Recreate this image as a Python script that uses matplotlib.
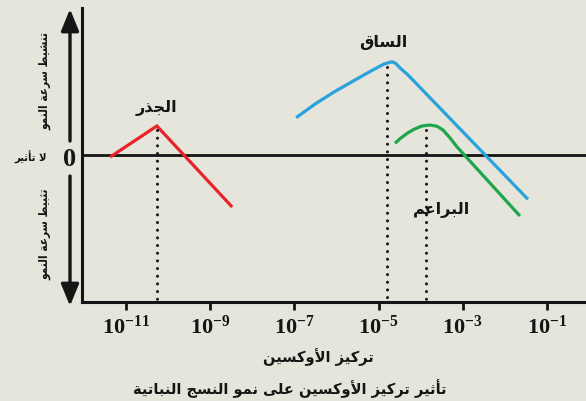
import matplotlib
matplotlib.use("Agg")
import matplotlib.pyplot as plt
import numpy as np

# ---------------- Arabic shaping helper ----------------
_D, _R, _N = 'D', 'R', 'N'
_BASE = {
    0x0621: (0xFE80, _N), 0x0622: (0xFE81, _R), 0x0623: (0xFE83, _R),
    0x0624: (0xFE85, _R), 0x0625: (0xFE87, _R), 0x0626: (0xFE89, _D),
    0x0627: (0xFE8D, _R), 0x0628: (0xFE8F, _D), 0x0629: (0xFE93, _R),
    0x062A: (0xFE95, _D), 0x062B: (0xFE99, _D), 0x062C: (0xFE9D, _D),
    0x062D: (0xFEA1, _D), 0x062E: (0xFEA5, _D), 0x062F: (0xFEA9, _R),
    0x0630: (0xFEAB, _R), 0x0631: (0xFEAD, _R), 0x0632: (0xFEAF, _R),
    0x0633: (0xFEB1, _D), 0x0634: (0xFEB5, _D), 0x0635: (0xFEB9, _D),
    0x0636: (0xFEBD, _D), 0x0637: (0xFEC1, _D), 0x0638: (0xFEC5, _D),
    0x0639: (0xFEC9, _D), 0x063A: (0xFECD, _D), 0x0641: (0xFED1, _D),
    0x0642: (0xFED5, _D), 0x0643: (0xFED9, _D), 0x0644: (0xFEDD, _D),
    0x0645: (0xFEE1, _D), 0x0646: (0xFEE5, _D), 0x0647: (0xFEE9, _D),
    0x0648: (0xFEED, _R), 0x0649: (0xFEEF, _R), 0x064A: (0xFEF1, _D),
}
_LAMALEF = {0x0622: 0xFEF5, 0x0623: 0xFEF7, 0x0625: 0xFEF9, 0x0627: 0xFEFB}


def ar(text):
    toks = []
    i = 0
    while i < len(text):
        c = ord(text[i])
        if c == 0x0644 and i + 1 < len(text) and ord(text[i + 1]) in _LAMALEF:
            toks.append(('LA', _LAMALEF[ord(text[i + 1])]))
            i += 2
            continue
        toks.append(('C', c))
        i += 1

    def jtype(t):
        if t[0] == 'LA':
            return _R
        if t[1] in _BASE:
            return _BASE[t[1]][1]
        return None

    out = []
    for k, t in enumerate(toks):
        jt = jtype(t)
        if jt is None:
            out.append(chr(t[1]))
            continue
        prev_j = k > 0 and jtype(toks[k - 1]) == _D and jt in (_D, _R)
        next_j = (jt == _D and k + 1 < len(toks)
                  and jtype(toks[k + 1]) in (_D, _R))
        if t[0] == 'LA':
            out.append(chr(t[1] + (1 if prev_j else 0)))
            continue
        base = _BASE[t[1]][0]
        if jt == _N:
            out.append(chr(base))
        elif prev_j and next_j:
            out.append(chr(base + 3))
        elif prev_j:
            out.append(chr(base + 1))
        elif next_j:
            out.append(chr(base + 2))
        else:
            out.append(chr(base))
    return ''.join(out)[::-1]


# ---------------- Data (x as log10 of auxin concentration) ----------------
root_logx = [-11.38, -10.27, -8.48]
root_y = [-0.02, 0.29, -0.52]

stem_logx = [-6.96, -6.51, -6.04, -5.56, -5.16, -4.87, -4.68, -4.59, -4.49,
             -4.30, -1.45]
stem_y = [0.373, 0.51, 0.635, 0.75, 0.845, 0.91, 0.933, 0.915, 0.87,
          0.80, -0.443]

bud_logx = [-4.61, -4.47, -4.32, -4.16, -3.97, -3.78, -3.61, -3.47, -3.30,
            -3.14, -1.64]
bud_y = [0.117, 0.17, 0.217, 0.257, 0.29, 0.30, 0.287, 0.25, 0.17,
         0.083, -0.61]

optima_logx = [-10.27, -4.81, -3.87]
optima_y = [0.29, 0.92, 0.29]

tick_exps = [-11, -9, -7, -5, -3, -1]

organ_labels = ["الجذر", "الساق", "البراعم"]
xlabel_text = "تركيز الأوكسين"
title_text = "تأثير تركيز الأوكسين على نمو النسج النباتية"
up_text = "تنشيط سرعة النمو"
down_text = "تثبيط سرعة النمو"
none_text = "لا تأثير"

# ---------------- Figure ----------------
W, H = 586, 401
BG = '#e5e5db'
INK = '#151515'
plt.rcParams['mathtext.fontset'] = 'custom'
plt.rcParams['mathtext.rm'] = 'Liberation Serif:bold'
plt.rcParams['mathtext.it'] = 'Liberation Serif:bold'
plt.rcParams['mathtext.bf'] = 'Liberation Serif:bold'

fig = plt.figure(figsize=(W / 100, H / 100), dpi=100, facecolor=BG)


def fx(px):
    return px / W


def fy(py):
    return 1 - py / H


ax = fig.add_axes([fx(82), fy(302), fx(586) - fx(82), fy(8) - fy(302)])
ax.set_facecolor(BG)
ax.set_xscale('log')
ax.set_xlim(10 ** -12.05, 10 ** -0.07)
ax.set_ylim(-1.47, 1.47)

for s in ['top', 'right']:
    ax.spines[s].set_visible(False)
for s in ['left', 'bottom']:
    ax.spines[s].set_linewidth(2.2)
    ax.spines[s].set_color(INK)

ax.set_yticks([])
ax.set_xticks([10.0 ** e for e in tick_exps])
ax.set_xticklabels([r'$\mathrm{10^{%d}}$' % e for e in tick_exps])
ax.xaxis.set_minor_locator(matplotlib.ticker.NullLocator())
ax.tick_params(axis='x', direction='out', length=6, width=2, color=INK,
               labelsize=16, pad=3, labelcolor=INK)

ax.axhline(0, color=INK, lw=2)

lw = 2.3
ax.plot([10.0 ** v for v in root_logx], root_y, color='#e8232a', lw=lw,
        solid_capstyle='butt', solid_joinstyle='miter')
ax.plot([10.0 ** v for v in stem_logx], stem_y, color='#2aa2dc', lw=lw,
        solid_capstyle='butt', solid_joinstyle='round')
ax.plot([10.0 ** v for v in bud_logx], bud_y, color='#1ea64b', lw=lw,
        solid_capstyle='butt', solid_joinstyle='round')

for lx, yy in zip(optima_logx, optima_y):
    ax.plot([10.0 ** lx, 10.0 ** lx], [yy - 0.04, -1.47], color=INK,
            lw=2.2, linestyle=(0, (0.01, 2.5)), dash_capstyle='round',
            clip_on=False)

afont = dict(family=['DejaVu Sans'], fontweight='bold', color=INK)
cfont = dict(family=['DejaVu Sans'], fontweight='bold', color=INK,
             fontstretch='condensed')
ax.text(10.0 ** -10.27, 0.47, ar(organ_labels[0]), ha='center', va='center',
        fontsize=11.5, **afont)
ax.text(10.0 ** -4.9, 1.13, ar(organ_labels[1]), ha='center', va='center',
        fontsize=11.5, **afont)
ax.text(10.0 ** -3.5, -0.55, ar(organ_labels[2]), ha='center', va='center',
        fontsize=11.5, **afont)

fig.text(fx(318), fy(357), ar(xlabel_text), ha='center', va='center',
         fontsize=10.5, **afont)
fig.text(fx(290), fy(389), ar(title_text), ha='center', va='center',
         fontsize=10.5, **afont)

# left side annotations
fig.text(fx(69.5), fy(160), '0', ha='center', va='center', fontsize=19,
         family='Liberation Serif', fontweight='bold', color=INK)
arrow_kw = dict(arrowstyle='-|>,head_width=0.45,head_length=1.1',
                lw=2.4, color=INK, shrinkA=0, shrinkB=0,
                mutation_scale=12)
ax.annotate('', xy=(fx(70), fy(9)), xytext=(fx(70), fy(141)),
            xycoords='figure fraction', textcoords='figure fraction',
            arrowprops=arrow_kw, annotation_clip=False)
ax.annotate('', xy=(fx(70), fy(306)), xytext=(fx(70), fy(176)),
            xycoords='figure fraction', textcoords='figure fraction',
            arrowprops=arrow_kw, annotation_clip=False)

fig.text(fx(45), fy(81), ar(up_text), rotation=90, ha='center', va='center',
         fontsize=8.5, **cfont)
fig.text(fx(45), fy(234), ar(down_text), rotation=90, ha='center',
         va='center', fontsize=8.5, **cfont)
fig.text(fx(31), fy(157), ar(none_text), ha='center', va='center',
         fontsize=8, **cfont)

fig.savefig('out.png', dpi=100, facecolor=BG)
